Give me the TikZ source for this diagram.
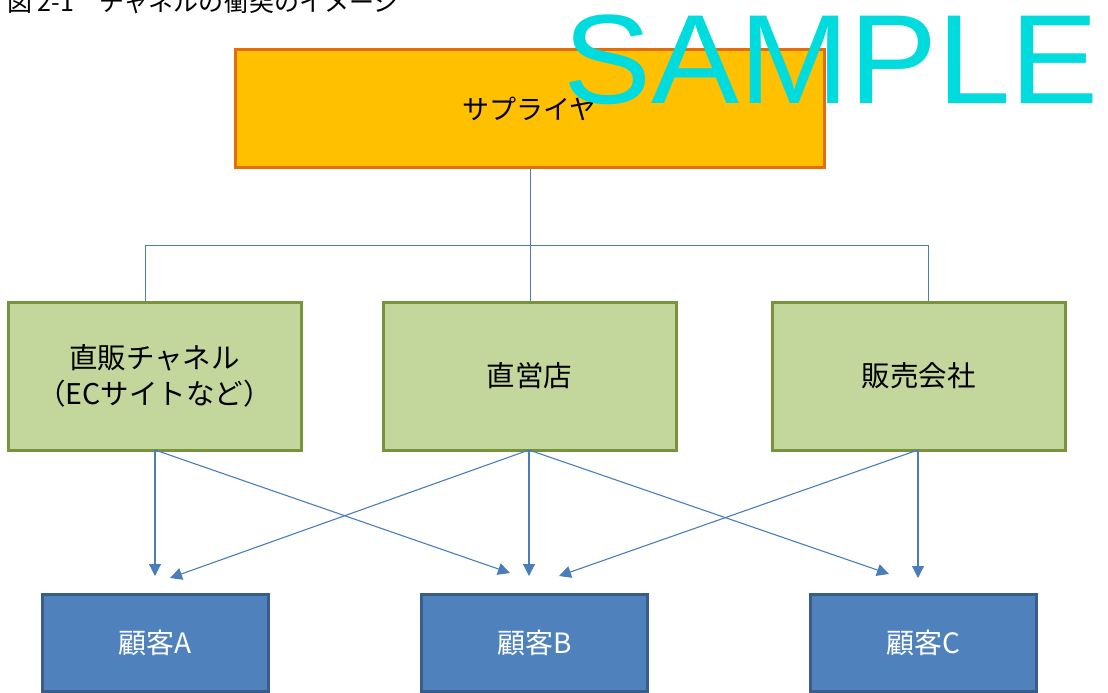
\documentclass[tikz,border=0pt]{standalone}
\usepackage{fontspec}
\setmainfont{Noto Sans CJK JP}
\newfontfamily\wmfont{Liberation Sans}
\usetikzlibrary{arrows.meta}
\definecolor{supfill}{HTML}{FFC000}
\definecolor{supline}{HTML}{E46C0A}
\definecolor{grfill}{HTML}{C3D69B}
\definecolor{grline}{HTML}{77933C}
\definecolor{blfill}{HTML}{4F81BD}
\definecolor{blline}{HTML}{385D8A}
\definecolor{conn}{HTML}{4A7EBB}
\definecolor{wm}{RGB}{0,220,222}
\tikzset{
  box/.style={rectangle, line width=3pt, inner sep=0pt, align=center},
  supbox/.style={box, fill=supfill, draw=supline, minimum width=589pt, minimum height=117pt, font=\fontsize{27}{30}\selectfont},
  chbox/.style={box, fill=grfill, draw=grline, minimum width=293pt, minimum height=148pt, font=\fontsize{28.5}{36}\selectfont},
  cubox/.style={box, fill=blfill, draw=blline, minimum width=226pt, minimum height=97pt, text=white, font=\fontsize{28}{30}\selectfont},
  tree/.style={draw=conn, line width=1pt},
  arr/.style={draw=conn, line width=1.1pt, -{Triangle[length=12pt,width=12pt]}},
}
\begin{document}
\begin{tikzpicture}[x=1pt,y=-1pt]
\useasboundingbox (0,0) rectangle (1108,693);
\fill[white] (0,0) rectangle (1108,693);
\node[anchor=base west, inner sep=0pt, font=\fontsize{25}{25}\selectfont] (title) at (7,12) {図 2-1　チャネルの衝突のイメージ};
\node[supbox] (sup) at (529.5,108.5) {サプライヤ};
\node[chbox] (ch1) at (154.5,376) {直販チャネル\\（ECサイトなど）};
\node[chbox] (ch2) at (529.5,376) {直営店};
\node[chbox] (ch3) at (918.5,376) {販売会社};
\node[cubox] (cA) at (155,642.5) {顧客A};
\node[cubox] (cB) at (534.5,642.5) {顧客B};
\node[cubox] (cC) at (923,642.5) {顧客C};
\coordinate (j) at (530,245);
\coordinate (j1) at (145,245);
\coordinate (j3) at (928,245);
\draw[tree] (sup.south -| j) -- (j);
\draw[tree] (j1) -- (j3);
\draw[tree] (j1) -- (j1 |- ch1.north);
\draw[tree] (j) -- (j |- ch2.north);
\draw[tree] (j3) -- (j3 |- ch3.north);
\coordinate (s1) at (155,450);
\coordinate (s2) at (529,450);
\coordinate (s3) at (918,450);
\coordinate (tA1) at (155,576);
\coordinate (tB1) at (510,573);
\coordinate (tA2) at (170,578);
\coordinate (tB2) at (529,576);
\coordinate (tC2) at (889,574);
\coordinate (tB3) at (559,576);
\coordinate (tC3) at (918,578);
\draw[arr] (s1) -- (tA1);
\draw[arr] (s1) -- (tB1);
\draw[arr] (s2) -- (tA2);
\draw[arr] (s2) -- (tB2);
\draw[arr] (s2) -- (tC2);
\draw[arr] (s3) -- (tB3);
\draw[arr] (s3) -- (tC3);
\node[anchor=base west, inner sep=0pt, text=wm, xscale=1.04, transform shape, font=\wmfont\fontsize{127}{127}\selectfont] (wmark) at (563,103) {SAMPLE};
\end{tikzpicture}
\end{document}
